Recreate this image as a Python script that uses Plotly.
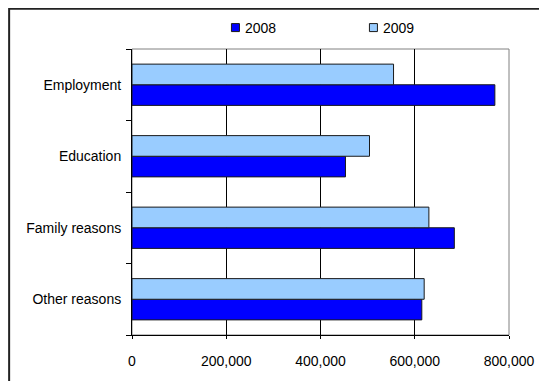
import plotly.graph_objects as go

# ====== data ======
categories = ["Employment", "Education", "Family reasons", "Other reasons"]
values_2008 = [770000, 453000, 684000, 615000]
values_2009 = [555000, 504000, 630000, 620000]
series_names = ["2008", "2009"]
series_colors = ["#0000FF", "#99CCFF"]
x_ticks = [0, 200000, 400000, 600000, 800000]

FONT = "Liberation Sans, Arial, sans-serif"

fig = go.Figure()
for name, vals, col in zip(series_names, [values_2008, values_2009], series_colors):
    fig.add_trace(go.Bar(
        y=categories, x=vals, name=name, orientation="h",
        marker=dict(color=col, line=dict(color="#1a1a1a", width=1)),
        showlegend=False,
    ))

# hand-made legend: small squares + text above the plot
legend_x = [0.2744, 0.6404]   # paper x of each legend square centre
for name, col, lx in zip(series_names, series_colors, legend_x):
    fig.add_shape(type="rect", xref="paper", yref="paper",
                  xsizemode="pixel", ysizemode="pixel",
                  xanchor=lx, yanchor=1.0749, x0=-4, x1=4, y0=-4, y1=4,
                  fillcolor=col, line=dict(color="#1a1a1a", width=1))
    fig.add_annotation(text=name, xref="paper", yref="paper",
                       x=lx + 0.0264, y=1.0749, xanchor="left", yanchor="middle",
                       showarrow=False, xshift=-2,
                       font=dict(family=FONT, size=14, color="black"))

# plot area frame (grey top/right), outer chart border (left/top edges only visible)
fig.add_shape(type="rect", xref="x domain", yref="y domain", x0=0, x1=1, y0=0, y1=1,
              line=dict(color="#808080", width=1), layer="below")
fig.add_shape(type="rect", xref="paper", yref="paper", x0=-0.3259, x1=1.2, y0=-0.25, y1=1.1411,
              line=dict(color="#222222", width=2))

# page body has an 8px margin, so the figure is 8px smaller and margins shifted
fig.update_layout(
    width=539, height=373,
    margin=dict(l=124, r=28, t=41, b=45),
    paper_bgcolor="white", plot_bgcolor="white",
    barmode="group", bargap=0.423, bargroupgap=0,
    font=dict(family=FONT, size=14, color="black"),
)
fig.update_xaxes(
    range=[0, 800000], tickvals=x_ticks, tickformat=",",
    showgrid=True, gridcolor="black", gridwidth=1,
    showline=True, linecolor="black", linewidth=1,
    ticks="outside", ticklen=3, tickcolor="black",
    ticklabelstandoff=10, zeroline=False,
)
fig.update_yaxes(
    categoryorder="array", categoryarray=categories[::-1],
    showgrid=False, showline=True, linecolor="black", linewidth=1,
    ticks="outside", ticklen=5, tickcolor="black", tickson="boundaries",
    ticklabelstandoff=7, zeroline=False,
)

fig.write_html("out.html")
